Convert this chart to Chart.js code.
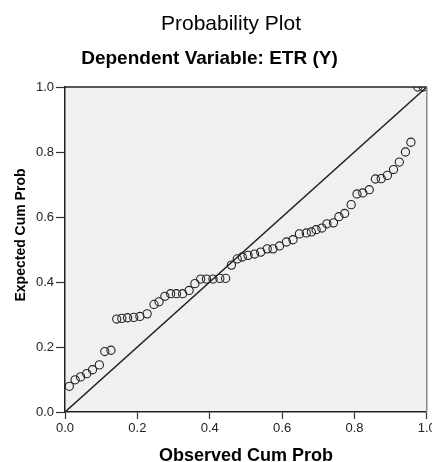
<!DOCTYPE html>
<html>
<head>
<meta charset="utf-8">
<script src="https://cdn.jsdelivr.net/npm/chart.js@4/dist/chart.umd.min.js"></script>
<style>
  html, body { margin: 0; padding: 0; background: #fff; }
  canvas { display: block; }
</style>
</head>
<body>
<canvas id="ppPlot" width="432" height="462"></canvas>
<script>
const titleText = "Probability Plot";
const subtitleText = "Dependent Variable: ETR (Y)";
const xAxisLabel = "Observed Cum Prob";
const yAxisLabel = "Expected Cum Prob";

const axisTicks = [0, 0.2, 0.4, 0.6, 0.8, 1.0];

const observedCumProb = [
  0.012, 0.028, 0.043, 0.060, 0.076, 0.095, 0.110, 0.127, 0.143, 0.157,
  0.173, 0.190, 0.207, 0.227, 0.246, 0.260, 0.276, 0.292, 0.308, 0.325,
  0.343, 0.359, 0.375, 0.391, 0.409, 0.428, 0.444, 0.460, 0.476, 0.490,
  0.506, 0.524, 0.541, 0.559, 0.575, 0.593, 0.612, 0.630, 0.648, 0.667,
  0.681, 0.694, 0.710, 0.724, 0.742, 0.757, 0.773, 0.791, 0.807, 0.823,
  0.841, 0.858, 0.874, 0.891, 0.908, 0.924, 0.941, 0.956, 0.975, 0.990
];
const expectedCumProb = [
  0.079, 0.099, 0.108, 0.118, 0.130, 0.145, 0.186, 0.190, 0.286, 0.288,
  0.290, 0.291, 0.294, 0.302, 0.331, 0.339, 0.356, 0.364, 0.364, 0.364,
  0.374, 0.395, 0.409, 0.409, 0.409, 0.411, 0.411, 0.452, 0.471, 0.477,
  0.482, 0.486, 0.492, 0.502, 0.502, 0.511, 0.523, 0.530, 0.548, 0.551,
  0.554, 0.561, 0.566, 0.579, 0.582, 0.601, 0.611, 0.638, 0.671, 0.674,
  0.684, 0.717, 0.718, 0.728, 0.746, 0.769, 0.800, 0.830, 1.000, 1.000
];

const refLineX = [0, 1];
const refLineY = [0, 1];

const fontFamily = "'Liberation Sans', Arial, sans-serif";
Chart.defaults.font.family = fontFamily;

const plotFrame = {
  id: "plotFrame",
  beforeDraw(chart) {
    const {ctx, chartArea: a} = chart;
    ctx.save();
    ctx.fillStyle = "#f0f0f0";
    ctx.fillRect(a.left, a.top, a.right - a.left, a.bottom - a.top);
    ctx.restore();
  },
  afterDatasetsDraw(chart) {
    const {ctx, chartArea: a} = chart;
    ctx.save();
    ctx.lineWidth = 1.5;
    ctx.strokeStyle = "#222";
    ctx.beginPath();
    ctx.moveTo(a.left, a.top);
    ctx.lineTo(a.right, a.top);
    ctx.stroke();
    ctx.strokeStyle = "#8a8a8a";
    ctx.beginPath();
    ctx.moveTo(a.right, a.top);
    ctx.lineTo(a.right, a.bottom);
    ctx.stroke();
    ctx.restore();
  }
};

const headings = {
  id: "headings",
  afterDraw(chart) {
    const {ctx, chartArea: a} = chart;
    ctx.save();
    ctx.fillStyle = "#000";
    ctx.textAlign = "center";
    ctx.textBaseline = "alphabetic";
    ctx.font = "21px " + fontFamily;
    ctx.fillText(titleText, 231, 29.5);
    ctx.font = "bold 19px " + fontFamily;
    ctx.fillText(subtitleText, 209.5, 64);
    ctx.font = "bold 18px " + fontFamily;
    ctx.fillText(xAxisLabel, (a.left + a.right) / 2, 461);
    ctx.translate(25, 235);
    ctx.rotate(-Math.PI / 2);
    ctx.font = "bold 14px " + fontFamily;
    ctx.fillText(yAxisLabel, 0, 0);
    ctx.restore();
  }
};

function axisOptions(tickLength, fitHook) {
  return {
    type: "linear",
    min: 0,
    max: 1,
    afterBuildTicks: (scale) => {
      scale.ticks = axisTicks.map((v) => ({value: v}));
    },
    afterFit: fitHook,
    ticks: {
      color: "#222",
      padding: 2,
      font: {size: 13},
      callback: (v) => Number(v).toFixed(1)
    },
    grid: {
      drawOnChartArea: false,
      drawTicks: true,
      tickLength: tickLength,
      tickColor: "#333",
      tickWidth: 1.2
    },
    border: {
      display: true,
      color: "#222",
      width: 1.5
    }
  };
}

const ctx = document.getElementById("ppPlot").getContext("2d");
const ppChart = new Chart(ctx, {
  type: "scatter",
  data: {
    datasets: [
      {
        type: "line",
        data: refLineX.map((x, i) => ({x, y: refLineY[i]})),
        borderColor: "#222",
        borderWidth: 1.5,
        pointRadius: 0,
        fill: false,
        clip: 0
      },
      {
        data: observedCumProb.map((x, i) => ({x, y: expectedCumProb[i]})),
        pointStyle: "circle",
        pointRadius: 4.1,
        pointBorderWidth: 1.1,
        borderColor: "#222",
        backgroundColor: "rgba(0,0,0,0)",
        clip: 0
      }
    ]
  },
  options: {
    responsive: false,
    maintainAspectRatio: false,
    animation: false,
    layout: {
      padding: {top: 87, right: 5, left: 0, bottom: 0}
    },
    scales: {
      x: axisOptions(7, (scale) => {
        scale.height = 50;
        scale.paddingLeft = 0;
        scale.paddingRight = 0;
      }),
      y: axisOptions(9, (scale) => {
        scale.width = 65;
        scale.paddingTop = 0;
        scale.paddingBottom = 0;
      })
    },
    plugins: {
      legend: {display: false},
      tooltip: {enabled: false}
    }
  },
  plugins: [plotFrame, headings]
});
</script>
</body>
</html>
